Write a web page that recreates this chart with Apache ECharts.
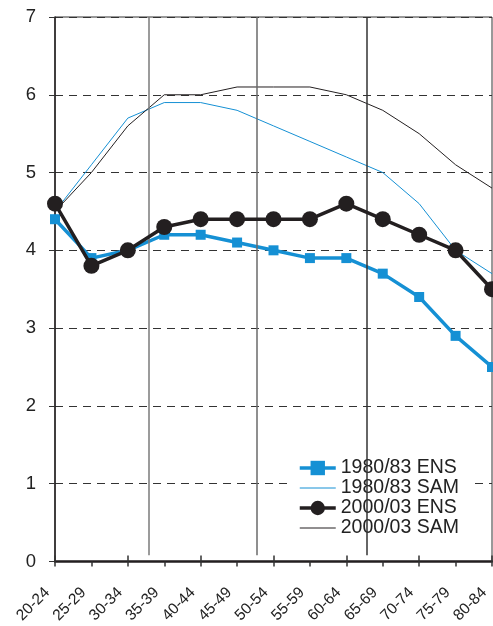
<!DOCTYPE html>
<html><head><meta charset="utf-8">
<script src="https://cdn.jsdelivr.net/npm/echarts@6/dist/echarts.min.js"></script>
<style>html,body{margin:0;padding:0;background:#fff}#c{width:493px;height:626px}</style>
</head><body><div id="c"></div>
<script>
const categories = ['20-24','25-29','30-34','35-39','40-44','45-49','50-54','55-59','60-64','65-69','70-74','75-79','80-84'];
const ens1980 = [4.4, 3.9, 4.0, 4.2, 4.2, 4.1, 4.0, 3.9, 3.9, 3.7, 3.4, 2.9, 2.5];
const sam1980 = [4.5, 5.1, 5.7, 5.9, 5.9, 5.8, 5.6, 5.4, 5.2, 5.0, 4.6, 4.0, 3.7];
const ens2000 = [4.6, 3.8, 4.0, 4.3, 4.4, 4.4, 4.4, 4.4, 4.6, 4.4, 4.2, 4.0, 3.5];
const sam2000 = [4.5, 5.0, 5.6, 6.0, 6.0, 6.1, 6.1, 6.1, 6.0, 5.8, 5.5, 5.1, 4.8];
const separators = [2.58, 5.55, 8.57];
const separatorColors = ['#7a7a7a', '#6a6a6a', '#333333'];

const BLUE = '#1590d4', BLACK = '#231f20';
const FONT = 'Liberation Sans, Arial, sans-serif';

const chart = echarts.init(document.getElementById('c'));
chart.setOption({
  animation: false,
  grid: {left: 55, right: 1, top: 17, bottom: 63, show: true, borderColor: '#333', borderWidth: 1, backgroundColor: 'transparent'},
  legend: {
    orient: 'vertical', left: 289, top: 458, itemWidth: 36, itemHeight: 18, itemGap: 0,
    backgroundColor: '#fff', padding: [0, 12, 0, 9],
    textStyle: {fontSize: 19.5, lineHeight: 19.6, color: '#222', fontFamily: FONT},
    data: [
      {name: '1980/83 ENS', lineStyle: {width: 3.5}},
      {name: '1980/83 SAM', lineStyle: {width: 1}, itemStyle: {opacity: 0}},
      {name: '2000/03 ENS', lineStyle: {width: 3.5}},
      {name: '2000/03 SAM', lineStyle: {width: 1}, itemStyle: {opacity: 0}}
    ]
  },
  xAxis: [{
    type: 'category', data: categories, boundaryGap: false,
    axisLine: {lineStyle: {color: '#231f20', width: 2.5}},
    axisTick: {show: true, length: 5, lineStyle: {color: '#333', width: 1.5}},
    axisLabel: {rotate: 45, fontSize: 15.5, color: '#222', fontFamily: FONT, margin: 21, padding: [0, 11, 0, 0]},
    splitLine: {show: false}
  }, {
    type: 'category', data: categories, boundaryGap: false, position: 'bottom',
    axisLine: {show: false}, axisLabel: {show: false},
    axisTick: {show: true, inside: true, length: 6, lineStyle: {color: '#333', width: 1.5}}
  }, {
    type: 'value', min: 0, max: categories.length - 1, show: false
  }],
  yAxis: {
    type: 'value', min: 0, max: 7, interval: 1,
    axisLine: {show: true, lineStyle: {color: '#231f20', width: 1.5}},
    axisTick: {show: true, length: 6, lineStyle: {color: '#333'}},
    axisLabel: {fontSize: 18.5, color: '#222', fontFamily: FONT, margin: 19},
    splitLine: {show: true, lineStyle: {color: '#333', type: [8, 6], width: 1}}
  },
  series: [
    {
      type: 'line', xAxisIndex: 2, data: [], silent: true, z: 10,
      markLine: {
        symbol: 'none', silent: true, label: {show: false},
        data: separators.map((s, i) => [
          {coord: [s, 0.08], lineStyle: {color: separatorColors[i], width: 1.5, type: 'solid'}},
          {coord: [s, 7]}
        ])
      }
    },
    {name: '1980/83 SAM', type: 'line', data: sam1980, symbol: 'none', lineStyle: {color: BLUE, width: 1}, itemStyle: {color: BLUE}, z: 3},
    {name: '2000/03 SAM', type: 'line', data: sam2000, symbol: 'none', lineStyle: {color: BLACK, width: 1}, itemStyle: {color: BLACK}, z: 3},
    {name: '1980/83 ENS', type: 'line', data: ens1980, symbol: 'rect', symbolSize: 10, lineStyle: {color: BLUE, width: 3.5}, itemStyle: {color: BLUE}, z: 4},
    {name: '2000/03 ENS', type: 'line', data: ens2000, symbol: 'circle', symbolSize: 16, lineStyle: {color: BLACK, width: 3.5}, itemStyle: {color: BLACK}, z: 5}
  ]
});
</script></body></html>
